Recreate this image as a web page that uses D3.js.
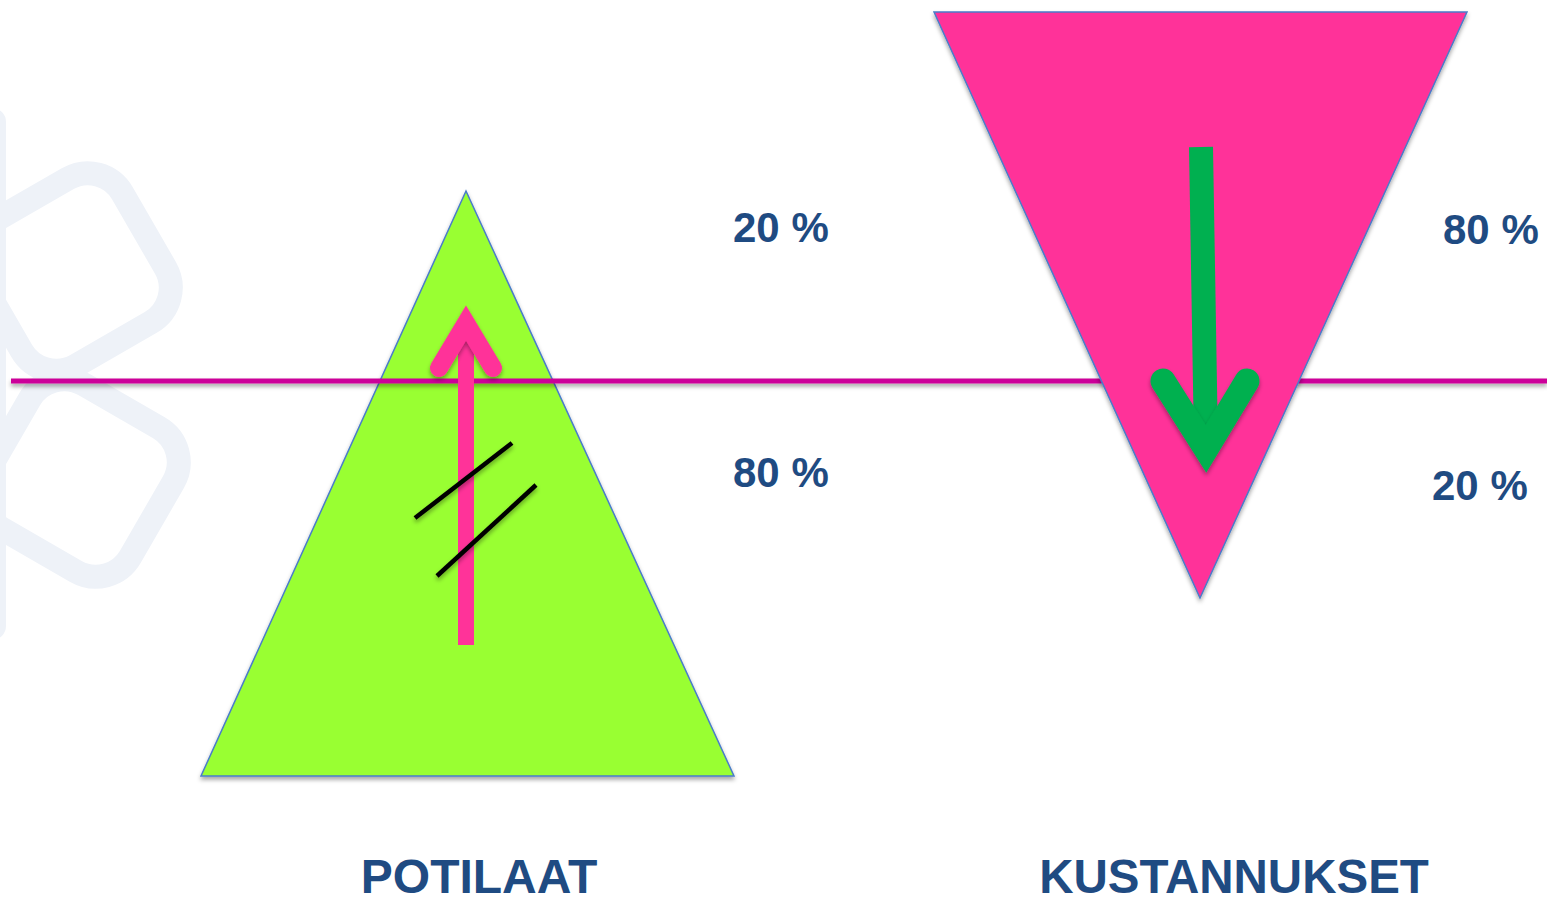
<!DOCTYPE html>
<html lang="fi">
<head>
<meta charset="UTF-8">
<title>Potilaat ja kustannukset</title>
<script src="https://d3js.org/d3.v7.min.js"></script>
<style>
  body{margin:0;background:#fff;}
  svg{display:block;}
  .share, .cat{font-family:"Liberation Sans",Arial,sans-serif;font-weight:bold;fill:#1f4b82;}
</style>
</head>
<body>
<svg class="chart"></svg>
<script>
// data
const categories = ["POTILAAT", "KUSTANNUKSET"];
const upperShare = [20, 80];   // share above the line
const lowerShare = [80, 20];   // share below the line

const width = 1547, height = 897;

const svg = d3.select('.chart')
  .attr('width', width)
  .attr('height', height);

// scales
const x = d3.scalePoint().domain(categories).range([466, 1200]);
const y = d3.scaleLinear().domain([0, 1]).range([776, 191]);   // 0 = base of pyramid, 1 = apex
const halfBase = 266;
const splitY = 381;

const defs = svg.append('defs');
defs.append('filter').attr('id', 'shadow')
  .attr('filterUnits', 'userSpaceOnUse')
  .attr('x', 0).attr('y', 0).attr('width', width).attr('height', height)
  .append('feDropShadow')
  .attr('dx', 0).attr('dy', 3).attr('stdDeviation', 2)
  .attr('flood-color', '#000').attr('flood-opacity', 0.35);

// faint background logo
const bg = svg.append('g').attr('fill', 'none').attr('stroke', '#eef2f8').attr('stroke-width', 24);
[[72, 272, -30], [80, 478, 30]].forEach(c => {
  bg.append('rect')
    .attr('x', -83).attr('y', -83).attr('width', 166).attr('height', 166).attr('rx', 40)
    .attr('transform', 'translate(' + c[0] + ',' + c[1] + ') rotate(' + c[2] + ')');
});
svg.append('rect').attr('x', -30).attr('y', 108).attr('width', 36).attr('height', 532)
  .attr('rx', 14).attr('fill', '#eef2f8');

const line = d3.line();

// green pyramid (patients)
const c0 = x(categories[0]);
svg.append('path')
  .attr('d', line([[c0, y(1)], [c0 + halfBase + 2, y(0)], [c0 - halfBase + 1, y(0)]]) + 'Z')
  .attr('fill', '#99ff33').attr('stroke', '#4a7cc9').attr('stroke-width', 1.5)
  .attr('filter', 'url(#shadow)');

// dividing line
svg.append('line')
  .attr('x1', 11).attr('x2', width).attr('y1', splitY).attr('y2', splitY)
  .attr('stroke', '#cc0099').attr('stroke-width', 5)
  .attr('filter', 'url(#shadow)');

// pink inverted pyramid (costs)
const c1 = x(categories[1]);
svg.append('path')
  .attr('d', line([[c1 - halfBase, 12], [c1 + halfBase + 1, 12], [c1, 598]]) + 'Z')
  .attr('fill', '#ff3399').attr('stroke', '#4a7cc9').attr('stroke-width', 1.5)
  .attr('filter', 'url(#shadow)');

// up arrow
svg.append('line')
  .attr('x1', c0).attr('x2', c0).attr('y1', 645).attr('y2', 330)
  .attr('stroke', '#ff3399').attr('stroke-width', 16);
svg.append('path')
  .attr('d', line([[c0 - 27, 368], [c0, 323], [c0 + 27, 368]]))
  .attr('fill', 'none').attr('stroke', '#ff3399').attr('stroke-width', 18)
  .attr('stroke-linecap', 'round').attr('stroke-linejoin', 'miter')
  .attr('filter', 'url(#shadow)');

// crossed marks
svg.append('g').attr('stroke', '#000').attr('stroke-width', 4.5).attr('filter', 'url(#shadow)')
  .selectAll('line')
  .data([[[415, 518], [512, 443]], [[437, 576], [536, 485]]])
  .join('line')
  .attr('x1', d => d[0][0]).attr('y1', d => d[0][1])
  .attr('x2', d => d[1][0]).attr('y2', d => d[1][1]);

// down arrow
svg.append('line')
  .attr('x1', c1 + 1).attr('x2', c1 + 6).attr('y1', 147).attr('y2', 445)
  .attr('stroke', '#00b050').attr('stroke-width', 24);
svg.append('path')
  .attr('d', line([[c1 - 37, 381], [c1 + 6, 449], [c1 + 47, 381]]))
  .attr('fill', 'none').attr('stroke', '#00b050').attr('stroke-width', 25)
  .attr('stroke-linecap', 'round').attr('stroke-linejoin', 'miter')
  .attr('filter', 'url(#shadow)');

// share labels
const shareX = [733, 1443];
const shareXLow = [733, 1432];
svg.selectAll('.share-up')
  .data(upperShare).join('text')
  .attr('class', 'share')
  .attr('x', (d, i) => shareX[i]).attr('y', (d, i) => i === 0 ? 242 : 244)
  .attr('font-size', 42)
  .text(d => d + ' %');
svg.selectAll('.share-low')
  .data(lowerShare).join('text')
  .attr('class', 'share')
  .attr('x', (d, i) => shareXLow[i]).attr('y', (d, i) => i === 0 ? 487 : 500)
  .attr('font-size', 42)
  .text(d => d + ' %');

// category labels
const catX = [479, 1234];
svg.selectAll('.cat')
  .data(categories).join('text')
  .attr('class', 'cat')
  .attr('x', (d, i) => catX[i]).attr('y', 893)
  .attr('text-anchor', 'middle')
  .attr('font-size', (d, i) => i === 0 ? 48 : 47.5)
  .text(d => d);
</script>
</body>
</html>
